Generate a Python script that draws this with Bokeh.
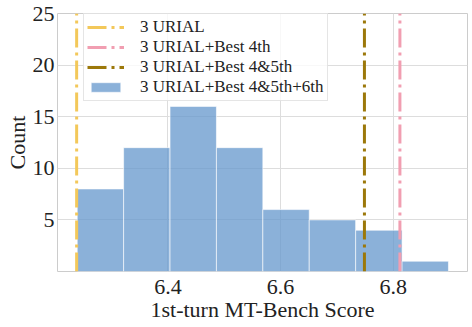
from bokeh.plotting import figure
from bokeh.models import Range1d, FixedTicker, Legend, LegendItem
from bokeh.embed import file_html
from bokeh.resources import INLINE

# Data
bin_edges = [6.239, 6.3214, 6.4038, 6.4862, 6.5686, 6.651, 6.7334, 6.8158, 6.8982]
counts = [8, 12, 16, 12, 6, 5, 4, 1]
score_3urial = 6.238
score_best4 = 6.812
score_best45 = 6.749
legend_labels = ["3 URIAL", "3 URIAL+Best 4th", "3 URIAL+Best 4&5th", "3 URIAL+Best 4&5th+6th"]
x_ticks = [6.4, 6.6, 6.8]
y_ticks = [5, 10, 15, 20, 25]

FONT = "'Liberation Serif', 'Times New Roman', serif"

p = figure(frame_width=410, frame_height=258, output_backend="svg", toolbar_location=None,
           x_range=Range1d(6.204, 6.932), y_range=Range1d(0, 25),
           min_border_left=57, min_border_right=5, min_border_top=13, min_border_bottom=50)

bars = p.quad(left=bin_edges[:-1], right=bin_edges[1:], bottom=0, top=counts,
              fill_color="#6497cc", fill_alpha=0.75, line_color="white", line_alpha=0.6, line_width=1)

dash = "19 5 3 5"
l1 = p.line(x=[score_3urial, score_3urial], y=[0, 25], line_color="#f3c85a", line_width=3, line_dash=dash)
l2 = p.line(x=[score_best4, score_best4], y=[0, 25], line_color="#f19eb1", line_width=3, line_dash=dash)
l3 = p.line(x=[score_best45, score_best45], y=[0, 25], line_color="#9c780a", line_width=3, line_dash=dash)

legend = Legend(items=[LegendItem(label=legend_labels[0], renderers=[l1]),
                       LegendItem(label=legend_labels[1], renderers=[l2]),
                       LegendItem(label=legend_labels[2], renderers=[l3]),
                       LegendItem(label=legend_labels[3], renderers=[bars])],
                location=(26, 170), label_text_font=FONT, label_text_font_size="17px",
                label_text_color="#222222", label_height=17, glyph_height=12, glyph_width=37,
                label_standoff=16, spacing=0, padding=3, margin=0,
                border_line_color="#cccccc", border_line_width=1,
                background_fill_color="white", background_fill_alpha=0.8)
p.add_layout(legend)

p.xaxis.ticker = FixedTicker(ticks=x_ticks)
p.yaxis.ticker = FixedTicker(ticks=y_ticks)
p.xaxis.axis_label = "1st-turn MT-Bench Score"
p.yaxis.axis_label = "Count"
for ax in (p.xaxis, p.yaxis):
    ax.axis_label_text_font = FONT
    ax.axis_label_text_font_size = "22px"
    ax.axis_label_text_font_style = "normal"
    ax.axis_label_text_color = "#222222"
    ax.major_label_text_font = FONT
    ax.major_label_text_font_size = "22px"
    ax.major_label_text_color = "#222222"
    ax.major_tick_line_color = None
    ax.minor_tick_line_color = None
    ax.major_tick_out = 0
    ax.major_tick_in = 0
    ax.minor_tick_out = 0
    ax.minor_tick_in = 0
    ax.axis_line_color = None
    ax.axis_label_standoff = 0
p.xaxis.major_label_standoff = 8
p.yaxis.major_label_standoff = 3

p.grid.grid_line_color = "#dddddd"
p.grid.grid_line_width = 1
p.outline_line_color = "#cccccc"
p.outline_line_width = 1
p.background_fill_color = "white"
p.border_fill_color = "white"

open("out.html", "w").write(file_html(p, INLINE))
